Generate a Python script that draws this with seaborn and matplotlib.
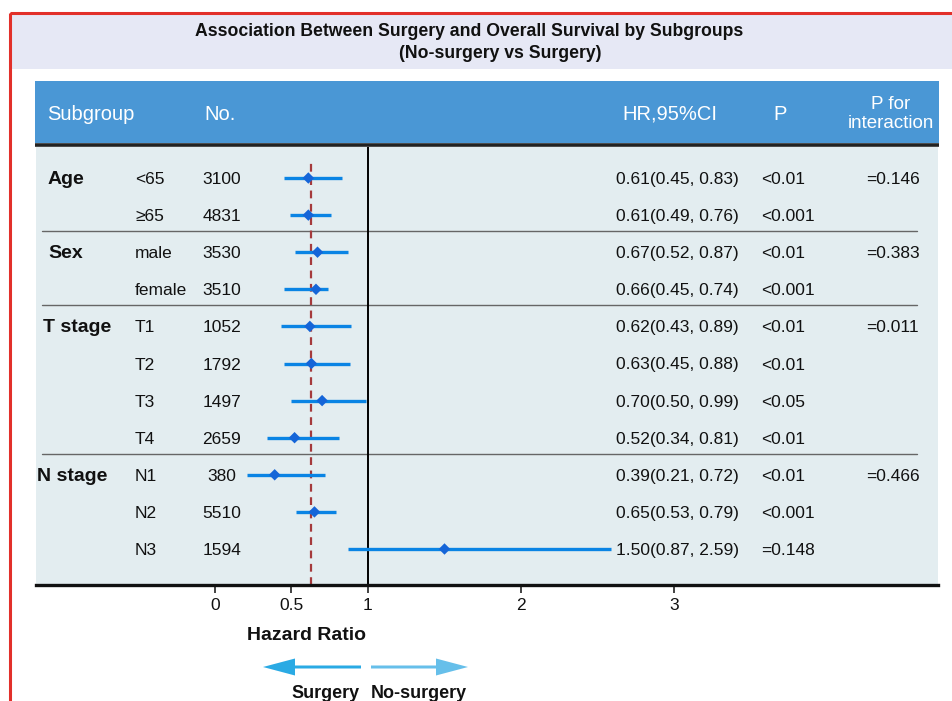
import matplotlib
matplotlib.use("Agg")
import matplotlib.pyplot as plt
from matplotlib.patches import Rectangle, FancyArrow
import seaborn as sns
import pandas as pd

# ---- data -------------------------------------------------------------
groups = ["Age", "Sex", "T stage", "N stage"]
group_sizes = [2, 2, 4, 3]
subgroups = ["<65", "≥65", "male", "female", "T1", "T2", "T3", "T4", "N1", "N2", "N3"]
counts = [3100, 4831, 3530, 3510, 1052, 1792, 1497, 2659, 380, 5510, 1594]
hr = [0.61, 0.61, 0.67, 0.66, 0.62, 0.63, 0.70, 0.52, 0.39, 0.65, 1.50]
ci_low = [0.45, 0.49, 0.52, 0.45, 0.43, 0.45, 0.50, 0.34, 0.21, 0.53, 0.87]
ci_high = [0.83, 0.76, 0.87, 0.74, 0.89, 0.88, 0.99, 0.81, 0.72, 0.79, 2.59]
p_values = ["<0.01", "<0.001", "<0.01", "<0.001", "<0.01", "<0.01", "<0.05",
            "<0.01", "<0.01", "<0.001", "=0.148"]
p_interaction = ["=0.146", "=0.383", "=0.011", "=0.466"]
overall_hr = 0.63
x_ticks = [0, 0.5, 1, 2, 3]
x_tick_labels = ["0", "0.5", "1", "2", "3"]

df = pd.DataFrame({"subgroup": subgroups, "n": counts, "hr": hr,
                   "lo": ci_low, "hi": ci_high, "p": p_values})
df["row"] = range(len(df))

# ---- style ------------------------------------------------------------
sns.set_theme(style="white")
plt.rcParams["font.family"] = ["Liberation Sans", "DejaVu Sans"]

W, H = 953, 701
fig = plt.figure(figsize=(W / 100, H / 100), dpi=100)

# pixel-space layers: background (below) and text (above)
bg = fig.add_axes([0, 0, 1, 1], zorder=0)
bg.set_xlim(0, W); bg.set_ylim(H, 0); bg.axis("off")
fg = fig.add_axes([0, 0, 1, 1], zorder=3)
fg.set_xlim(0, W); fg.set_ylim(H, 0); fg.axis("off")
fg.patch.set_alpha(0)

# layout (pixels)
body_left, body_right, body_top, body_bottom = 36, 938, 147, 585
row_y0, row_pitch = 178, 37.1
zero_px, unit_px = 215, 153.0

def row_px(i):
    return row_y0 + i * row_pitch

# frame, title band, header band
bg.add_patch(Rectangle((11, 14), W, 55, facecolor="#E6E8F5", edgecolor="none"))
bg.add_patch(Rectangle((10, 13), W + 20, H, facecolor="none", edgecolor="#E2302A", lw=2.2))
bg.add_patch(Rectangle((35, 81), 904, 62, facecolor="#4A97D5", edgecolor="none"))
bg.plot([35, 939], [145, 145], color="#222222", lw=2.6, solid_capstyle="butt")

fg.text(469, 31, "Association Between Surgery and Overall Survival by Subgroups",
        ha="center", va="center", fontsize=12.7, fontweight="bold", color="#111111")
fg.text(500, 53, "(No-surgery vs Surgery)", ha="center", va="center",
        fontsize=12.7, fontweight="bold", color="#111111")

hdr = dict(color="white", fontsize=14.5, va="center")
fg.text(47, 114, "Subgroup", ha="left", **hdr)
fg.text(204, 114, "No.", ha="left", **hdr)
fg.text(717, 114, "HR,95%CI", ha="right", **hdr)
fg.text(780, 114, "P", ha="center", **hdr)
fg.text(891, 114, "P for\ninteraction", ha="center", linespacing=1.15,
        color="white", fontsize=13.5, va="center")

# ---- forest panel -------------------------------------------------------
ax = fig.add_axes([body_left / W, 1 - body_bottom / H,
                   (body_right - body_left) / W, (body_bottom - body_top) / H], zorder=1)
ax.set_facecolor("#E3EDF0")
ax.set_xlim((body_left - zero_px) / unit_px, (body_right - zero_px) / unit_px)
ax.set_ylim((body_bottom - row_y0) / row_pitch, (body_top - row_y0) / row_pitch)

# group separators
start = 0
for size in group_sizes[:-1]:
    start += size
    yb = start - 0.5 - 0.07
    ax.plot([(42 - zero_px) / unit_px, (917 - zero_px) / unit_px], [yb, yb],
            color="#666666", lw=1.0, zorder=1)

ax.axvline(1, color="black", lw=1.4, zorder=2)
ax.axvline(overall_hr, ymin=0, ymax=(body_bottom - 162) / (body_bottom - body_top),
           color="#A53A3C", lw=1.6, ls=(0, (3.5, 2.5)), zorder=2)

ax.hlines(df["row"], df["lo"], df["hi"], color="#0A84E4", lw=2.4, zorder=3)
sns.scatterplot(data=df, x="hr", y="row", marker="D", s=34, color="#1565D8",
                edgecolor="none", ax=ax, zorder=4, legend=False)

ax.set_xlabel(""); ax.set_ylabel("")
ax.set_yticks([])
ax.set_xticks(x_ticks)
ax.set_xticklabels(x_tick_labels, fontsize=12.5, color="#111111")
ax.tick_params(axis="x", direction="out", length=6, width=1.2, pad=3, color="#222222",
               bottom=True)
for side in ["top", "left", "right"]:
    ax.spines[side].set_visible(False)
ax.spines["bottom"].set_color("#111111")
ax.spines["bottom"].set_linewidth(2.4)

# ---- row text ---------------------------------------------------------
txt = dict(fontsize=12.5, color="#111111", va="center")
text_dy = 1.5
group_x = [48, 48, 43, 37]
start = 0
for g, size, pint, gx in zip(groups, group_sizes, p_interaction, group_x):
    y = row_px(start) + text_dy
    fg.text(gx, y, g, ha="left", fontweight="bold", fontsize=14,
            color="#111111", va="center")
    fg.text(866, y, pint, ha="left", **txt)
    start += size

for i, r in df.iterrows():
    y = row_px(r["row"]) + text_dy
    fg.text(135, y, r["subgroup"], ha="left", **txt)
    fg.text(222, y, str(r["n"]), ha="center", **txt)
    fg.text(616, y, f"{r['hr']:.2f}({r['lo']:.2f}, {r['hi']:.2f})", ha="left", **txt)
    fg.text(761, y, r["p"], ha="left", **txt)

# ---- axis caption and direction arrows ------------------------------------
fg.text(307, 636, "Hazard Ratio", ha="center", va="center", fontsize=14,
        fontweight="bold", color="#111111")
fg.add_patch(FancyArrow(361, 667, -98, 0, width=3, head_width=17, head_length=32,
                        length_includes_head=True, color="#2AAAE4", lw=0))
fg.add_patch(FancyArrow(371, 667, 97, 0, width=3, head_width=17, head_length=32,
                        length_includes_head=True, color="#66BFEA", lw=0))
fg.text(326, 693, "Surgery", ha="center", va="center", fontsize=13,
        fontweight="bold", color="#111111")
fg.text(419, 693, "No-surgery", ha="center", va="center", fontsize=13,
        fontweight="bold", color="#111111")

fig.savefig("out.png", dpi=100)
